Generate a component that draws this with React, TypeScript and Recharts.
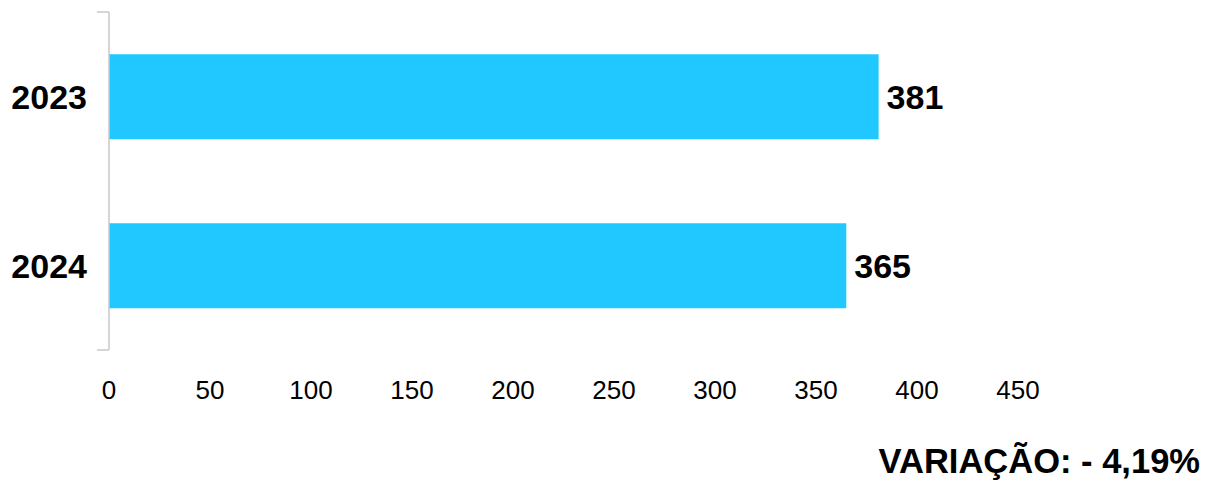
import { BarChart, Bar, XAxis, YAxis, LabelList } from 'recharts';

const years = ['2023', '2024'];
const counts = [381, 365];
const xTicks = [0, 50, 100, 150, 200, 250, 300, 350, 400, 450];
const variationText = 'VARIAÇÃO: - 4,19%';

const data = years.map((year, i) => ({ year, value: counts[i] }));

const font = '"Liberation Sans", Arial, sans-serif';

export default function App() {
  return (
    <div style={{ position: 'relative', width: 1200, height: 476, fontFamily: font }}>
      <BarChart
        width={1200}
        height={420}
        data={data}
        layout="vertical"
        margin={{ top: 4, right: 190, left: 0, bottom: 18 }}
        barCategoryGap="25%"
      >
        <XAxis
          type="number"
          domain={[0, 450]}
          ticks={xTicks}
          axisLine={false}
          tickLine={false}
          tickSize={0}
          tickMargin={31}
          height={60}
          tick={{ fill: '#000', fontSize: 26, fontFamily: font }}
        />
        <YAxis
          yAxisId="bounds"
          type="number"
          domain={[0, 2]}
          ticks={[0, 1, 2]}
          width={1}
          tickSize={12}
          tickFormatter={() => ''}
          axisLine={{ stroke: '#c8c8c8', strokeWidth: 1.5 }}
          tickLine={{ stroke: '#c8c8c8', strokeWidth: 1.5 }}
        />
        <YAxis
          yAxisId="cats"
          type="category"
          dataKey="year"
          width={100}
          axisLine={false}
          tickLine={false}
          tickSize={0}
          tickMargin={21}
          tick={{ fill: '#000', fontSize: 34, fontWeight: 'bold', fontFamily: font }}
        />
        <Bar yAxisId="cats" dataKey="value" fill="#21c8ff" isAnimationActive={false}>
          <LabelList
            dataKey="value"
            position="right"
            offset={8}
            fill="#000"
            fontSize={34}
            fontWeight="bold"
            fontFamily={font}
          />
        </Bar>
      </BarChart>
      <div
        style={{
          position: 'absolute',
          right: 8,
          top: 433,
          fontSize: 34.5,
          fontWeight: 'bold',
          color: '#000',
          lineHeight: '40px',
          whiteSpace: 'nowrap',
        }}
      >
        {variationText}
      </div>
    </div>
  );
}
